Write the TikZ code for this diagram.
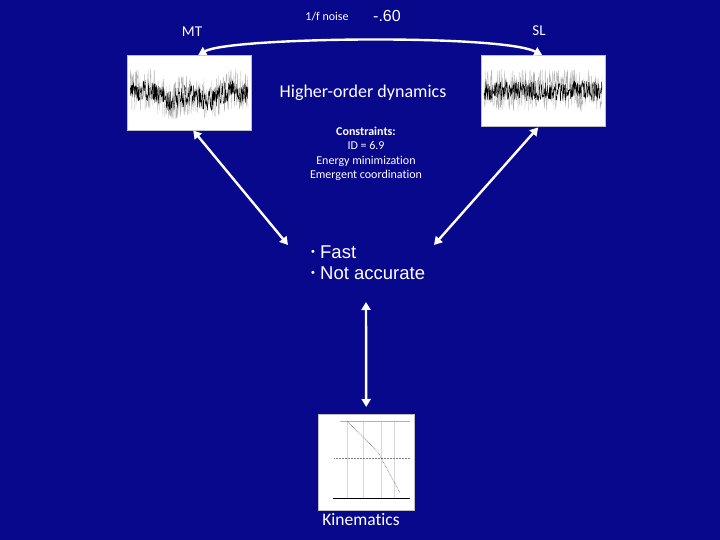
\documentclass[tikz,border=0pt]{standalone}
\usepackage{fontspec}
\setmainfont{Carlito}[Ligatures=NoCommon]
\newfontfamily\arialfont{Liberation Sans}
\usetikzlibrary{arrows.meta}
\definecolor{slideblue}{RGB}{8,8,140}

\begin{document}
\begin{tikzpicture}[x=1pt,y=-1pt,
        link/.style={white,line width=2.4pt,{Triangle[width=9pt,length=8pt]}-{Triangle[width=9pt,length=8pt]}},
        plotbox/.style={fill=white,draw=gray!50,line width=0.4pt,inner sep=0pt,anchor=north west},
        txt/.style={text=white,inner sep=0pt}]
        \fill[slideblue] (0,0) rectangle (720,540);
        \useasboundingbox (0,0) rectangle (720,540);
        \pgfmathsetseed{17}

        \node[txt,font=\fontsize{15}{17}\selectfont] (mt) at (192,32) {MT};
        \node[txt,font=\fontsize{15}{17}\selectfont] (sl) at (539,31) {SL};
        \node[txt,font=\fontsize{12}{14}\selectfont] (noise) at (327,17) {1/f noise};
        \node[txt,font=\arialfont\fontsize{16}{18}\selectfont] (slope) at (387,16) {-.60};

        \node[plotbox,minimum width=124pt,minimum height=75pt] (mtplot) at (127,55) {};
        \node[plotbox,minimum width=124pt,minimum height=71pt] (slplot) at (481,55) {};
        \node[plotbox,minimum width=96pt,minimum height=96pt] (kinplot) at (318,414) {};

        % signals
        \draw[gray!60,line width=0.3pt] plot[domain=130:248,samples=320] (\x,{88+9*sin((\x-130)*1.5)+3*sin(9*\x)+21*rand});
        \draw[black,line width=0.35pt] plot[domain=130:248,samples=320] (\x,{89+9*sin((\x-130)*1.5)+3*sin(9*\x)+11*rand});
        \draw[gray!60,line width=0.3pt] plot[domain=484:602,samples=320] (\x,{90+21*rand});
        \draw[black,line width=0.35pt] plot[domain=484:602,samples=320] (\x,{91+10*rand});

        % kinematics plot
        \draw[gray!30,line width=0.3pt] (347,421) -- (347,498) (363,421) -- (363,498) (381,421) -- (381,498) (394,421) -- (394,498);
        \draw[gray!60,line width=0.4pt] (340,421) -- (410,421);
        \draw[gray,densely dotted,line width=0.5pt] (334,458) -- (410,458);
        \draw[black!80,densely dotted,line width=0.5pt] (347,421) -- (378,452) -- (400,493);
        \draw[black,line width=0.8pt] (333,498) -- (410,498);

        \node[txt,font=\fontsize{18}{20}\selectfont] (dyn) at (363,93) {Higher-order dynamics};
        \node[txt,anchor=north,align=center,font=\fontsize{12}{14.3}\selectfont] (cons) at (366,127)
            {\textbf{Constraints:}\\ID = 6.9\\Energy minimization\\Emergent coordination};
        \node[txt,anchor=north west,align=left,font=\arialfont\fontsize{18.5}{20.5}\selectfont] (fast) at (311,246)
            {{\fontsize{11}{11}\selectfont\raisebox{3pt}{•}} Fast\\{\fontsize{11}{11}\selectfont\raisebox{3pt}{•}} Not accurate};
        \node[txt,font=\fontsize{17.5}{19}\selectfont] (kin) at (361,520) {Kinematics};

        \coordinate (leftend) at (288,245);
        \coordinate (rightend) at (434,245);
        \coordinate (upend) at (366,302);

        \draw[link] ([xshift=9pt]mtplot.north) .. controls +(32,-18) and +(-42,-21) .. ([xshift=-1pt]slplot.north);
        \draw[link] ([xshift=4pt]mtplot.south) -- (leftend);
        \draw[link] ([xshift=-5pt,yshift=-1pt]slplot.south) -- (rightend);
        \draw[link] (upend) -- ([yshift=7pt]kinplot.north);
\end{tikzpicture}
\end{document}
